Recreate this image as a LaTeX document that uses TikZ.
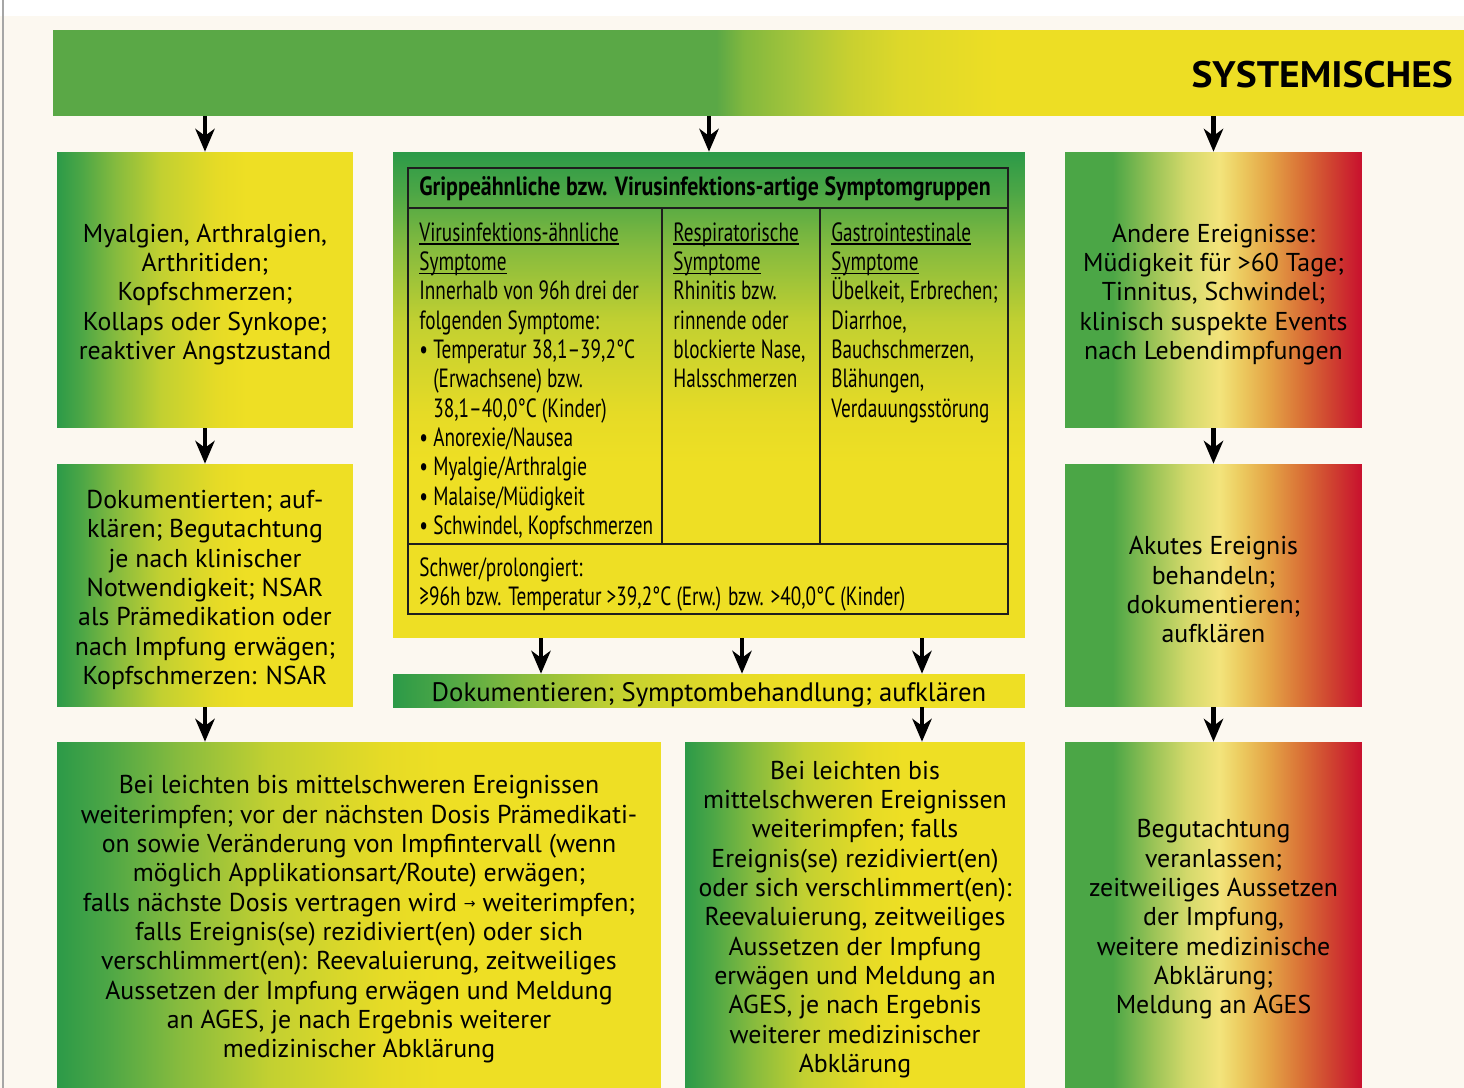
\documentclass[tikz,border=0pt]{standalone}
\usepackage{fontspec}
\setmainfont{PT Sans}
\newfontfamily\condfont[FakeStretch=0.73]{PT Sans}
\newfontfamily\condhead[FakeStretch=0.83]{PT Sans}
\newfontfamily\widehead[FakeStretch=1.07]{PT Sans}
\newfontfamily\symfont{DejaVu Sans}
\usetikzlibrary{arrows.meta}

\definecolor{bgcream}{HTML}{FCF8F0}
\definecolor{rule}{HTML}{1E1E1E}
% green -> yellow stops
\definecolor{g1}{HTML}{2C9A48}
\definecolor{g2}{HTML}{4BA646}
\definecolor{g3}{HTML}{86BB3E}
\definecolor{g4}{HTML}{C2D031}
\definecolor{g5}{HTML}{E6DB26}
\definecolor{syellow}{HTML}{EEDF24}
% green -> yellow -> red stops
\definecolor{r1}{HTML}{4BA646}
\definecolor{r2}{HTML}{9CC457}
\definecolor{r3}{HTML}{D3D96B}
\definecolor{r4}{HTML}{F3E47C}
\definecolor{r5}{HTML}{EDCF63}
\definecolor{r6}{HTML}{E5A748}
\definecolor{r7}{HTML}{DA7437}
\definecolor{r8}{HTML}{CF4030}
\definecolor{sred}{HTML}{C8102E}
% banner stops
\definecolor{b1}{HTML}{5AA846}
\definecolor{b2}{HTML}{82B83E}
\definecolor{b3}{HTML}{A8C63A}
\definecolor{b4}{HTML}{C8D030}
\definecolor{b5}{HTML}{DDD82A}
\definecolor{b6}{HTML}{EDDE24}

\pgfdeclarehorizontalshading{gy}{100bp}{color(0bp)=(g1); color(25bp)=(g1);
  color(29bp)=(g2); color(35bp)=(g3); color(42.5bp)=(g4); color(52bp)=(g5);
  color(57bp)=(syellow); color(100bp)=(syellow)}
\pgfdeclareverticalshading{gyv}{100bp}{color(0bp)=(syellow); color(43bp)=(syellow);
  color(48bp)=(g5); color(57.5bp)=(g4); color(65bp)=(g3); color(71bp)=(g2);
  color(75bp)=(g1); color(100bp)=(g1)}
\pgfdeclarehorizontalshading{gyr}{100bp}{color(0bp)=(r1); color(33bp)=(r1);
  color(40bp)=(r2); color(45.5bp)=(r3); color(51bp)=(r4); color(54bp)=(r5);
  color(59bp)=(r6); color(64.5bp)=(r7); color(70bp)=(r8); color(75bp)=(sred);
  color(100bp)=(sred)}
\pgfdeclarehorizontalshading{banner}{100bp}{color(0bp)=(b1); color(48.5bp)=(b1);
  color(49.5bp)=(b2); color(51.5bp)=(b3); color(53.2bp)=(b4); color(55bp)=(b5);
  color(58.5bp)=(b6); color(100bp)=(b6)}

\newcommand{\ulhead}[1]{\setbox0\hbox{#1}\rlap{\rule[-2.2pt]{\wd0}{0.9pt}}\box0}
\newcommand{\itm}{\textbullet\hspace{0.2em}}
\newcommand{\itmgap}{\hphantom{\textbullet\hspace{0.2em}}}
\newcommand{\smallarr}{\raisebox{1.5pt}{\symfont\fontsize{8}{8}\selectfont →}}
% taller first line, pushes box text a little down
\newcommand{\firstline}{\rule{0pt}{15.5pt}}

\tikzset{
  box/.style={rectangle, inner sep=0pt, align=center,
    font=\fontsize{14.7}{16.7}\selectfont},
  gybox/.style={box, shade, shading=gy},
  gyrbox/.style={box, shade, shading=gyr},
  tabtext/.style={anchor=north west, inner sep=0pt, align=left,
    font=\condfont\fontsize{15}{16.7}\selectfont},
  arr/.style={line width=2.3pt, -{Stealth[length=13pt,width=11pt,inset=4pt]}},
}

\begin{document}
\begin{tikzpicture}[x=0.02cm, y=-0.02cm]
\useasboundingbox (0,0) rectangle (1464,1088);

% page
\fill[white] (0,0) rectangle (1464,16);
\fill[bgcream] (0,16) rectangle (1464,1088);
\draw[black!35, line width=0.8pt] (3,0) -- (3,1088);

% banner
\node[box, shade, shading=banner, minimum width=28.22cm, minimum height=1.72cm,
      text width=27.78cm, align=right, text height=0.6cm, text depth=0pt,
      font=\widehead\fontsize{21}{24}\selectfont\bfseries]
      (top) at (758.5,73) {SYSTEMISCHES};

% left column
\node[gybox, minimum width=5.92cm, minimum height=5.52cm] (myal) at (205,290)
  {\firstline Myalgien, Arthralgien,\\ Arthritiden;\\ Kopfschmerzen;\\
   Kollaps oder Synkope;\\ reaktiver Angstzustand};
\node[gybox, minimum width=5.92cm, minimum height=4.86cm] (doku) at (205,585.5)
  {\firstline Dokumentierten; auf-\\ klären; Begutachtung\\ je nach klinischer\\
   Notwendigkeit; NSAR\\ als Prämedikation oder\\ nach Impfung erwägen;\\
   Kopfschmerzen: NSAR};
\node[gybox, minimum width=12.08cm, minimum height=6.92cm] (weiter) at (359,915)
  {\firstline Bei leichten bis mittelschweren Ereignissen\\
   weiterimpfen; vor der nächsten Dosis Prämedikati-\\
   on sowie Veränderung von Impfintervall (wenn\\
   möglich Applikationsart/Route) erwägen;\\
   falls nächste Dosis vertragen wird \smallarr{} weiterimpfen;\\
   falls Ereignis(se) rezidiviert(en) oder sich\\
   verschlimmert(en): Reevaluierung, zeitweiliges\\
   Aussetzen der Impfung erwägen und Meldung\\
   an AGES, je nach Ergebnis weiterer\\
   medizinischer Abklärung};

% middle column: symptom table
\node[box, shade, shading=gyv, minimum width=12.64cm, minimum height=9.72cm]
  (grippe) at (709,395) {};
\node[draw=rule, line width=1.1pt, inner sep=0pt, minimum width=12cm,
      minimum height=8.92cm] (tab) at (708,391) {};
\draw[rule, line width=1.1pt] (tab.west |- 0,208) -- (tab.east |- 0,208);
\draw[rule, line width=1.1pt] (tab.west |- 0,544) -- (tab.east |- 0,544);
\draw[rule, line width=1.1pt] (662,208) -- (662,544);
\draw[rule, line width=1.1pt] (820,208) -- (820,544);

\node[tabtext, anchor=west, font=\condhead\fontsize{15}{16.7}\selectfont\bfseries]
  (thead) at (419,189) {Grippeähnliche bzw. Virusinfektions-artige Symptomgruppen};
\node[tabtext] (tvirus) at (419,222)
  {\ulhead{Virusinfektions-ähnliche}\\ \ulhead{Symptome}\\
   Innerhalb von 96h drei der\\ folgenden Symptome:\\
   \itm Temperatur 38,1–39,2°C\\ \itmgap(Erwachsene) bzw.\\
   \itmgap 38,1–40,0°C (Kinder)\\ \itm Anorexie/Nausea\\
   \itm Myalgie/Arthralgie\\ \itm Malaise/Müdigkeit\\
   \itm Schwindel, Kopfschmerzen};
\node[tabtext] (tresp) at (673,222)
  {\ulhead{Respiratorische}\\ \ulhead{Symptome}\\ Rhinitis bzw.\\
   rinnende oder\\ blockierte Nase,\\ Halsschmerzen};
\node[tabtext] (tgastro) at (831,222)
  {\ulhead{Gastrointestinale}\\ \ulhead{Symptome}\\ Übelkeit, Erbrechen;\\
   Diarrhoe,\\ Bauchschmerzen,\\ Blähungen,\\ Verdauungsstörung};
\node[tabtext] (tschwer) at (419,557)
  {Schwer/prolongiert:\\
   ≥96h bzw. Temperatur >39,2°C (Erw.) bzw. >40,0°C (Kinder)};

\node[gybox, minimum width=12.64cm, minimum height=0.66cm,
      font=\fontsize{15.2}{18}\selectfont] (behand) at (709,690.5)
  {\firstline Dokumentieren; Symptombehandlung; aufklären};
\node[gybox, minimum width=6.8cm, minimum height=6.92cm] (melden) at (855,915)
  {\firstline Bei leichten bis\\ mittelschweren Ereignissen\\ weiterimpfen; falls\\
   Ereignis(se) rezidiviert(en)\\ oder sich verschlimmert(en):\\
   Reevaluierung, zeitweiliges\\ Aussetzen der Impfung\\
   erwägen und Meldung an\\ AGES, je nach Ergebnis\\
   weiterer medizinischer\\ Abklärung};

% right column
\node[gyrbox, minimum width=5.94cm, minimum height=5.52cm] (andere) at (1213.5,290)
  {\firstline Andere Ereignisse:\\ Müdigkeit für >60 Tage;\\ Tinnitus, Schwindel;\\
   klinisch suspekte Events\\ nach Lebendimpfungen};
\node[gyrbox, minimum width=5.94cm, minimum height=4.86cm] (akut) at (1213.5,585.5)
  {\firstline Akutes Ereignis\\ behandeln;\\ dokumentieren;\\ aufklären};
\node[gyrbox, minimum width=5.94cm, minimum height=6.92cm] (begut) at (1213.5,915)
  {\firstline Begutachtung\\ veranlassen;\\ zeitweiliges Aussetzen\\ der Impfung,\\
   weitere medizinische\\ Abklärung;\\ Meldung an AGES};

% arrows
\foreach \n in {myal,grippe,andere}
  \draw[arr] (top.south -| \n.north) -- (\n.north);
\draw[arr] (myal.south) -- (doku.north);
\draw[arr] (doku.south) -- (doku.south |- weiter.north);
\draw[arr] (andere.south) -- (akut.north);
\draw[arr] (akut.south) -- (begut.north);
\foreach \x in {541,742,922}
  \draw[arr] (grippe.south -| \x,0) -- (behand.north -| \x,0);
\draw[arr] (behand.south -| 922,0) -- (melden.north -| 922,0);
\end{tikzpicture}
\end{document}
